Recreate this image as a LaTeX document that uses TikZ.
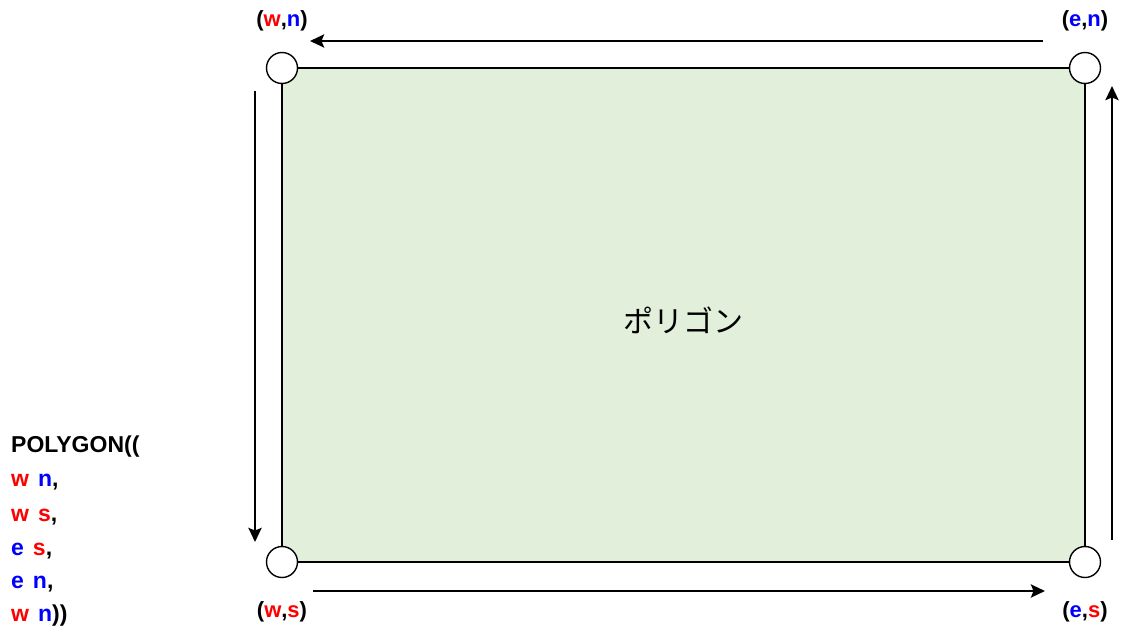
\documentclass[tikz,border=0pt]{standalone}
\usepackage{fontspec}
\setmainfont{Noto Sans CJK JP}
\newfontfamily\latf{Liberation Sans}
\usetikzlibrary{arrows.meta}
\definecolor{polyfill}{HTML}{E2EFDA}
\definecolor{cred}{HTML}{FF0000}
\definecolor{cblue}{HTML}{0000FF}
\newcommand{\rw}{\textcolor{cred}{w}}
\newcommand{\bn}{\textcolor{cblue}{n}}
\newcommand{\rs}{\textcolor{cred}{s}}
\newcommand{\be}{\textcolor{cblue}{e}}
\newcommand{\gap}{\hspace{9pt}}
\begin{document}
\begin{tikzpicture}[x=1pt,y=-1pt,
  corner/.style={circle,draw=black,fill=white,line width=1.4pt,minimum size=31pt,inner sep=0pt},
  flow/.style={line width=2.6pt,-{Stealth[length=14pt,width=13pt,inset=2.5pt]}},
  lbl/.style={font=\fontsize{22}{26}\selectfont\latf\bfseries,inner sep=0pt},
  code/.style={font=\fontsize{23}{27}\selectfont\latf\bfseries,anchor=west,inner sep=0pt}]
\useasboundingbox (0,0) rectangle (1121,629);
\node[draw=black,fill=polyfill,line width=1.4pt,minimum width=803pt,minimum height=494pt,inner sep=0pt] (poly) at (683.5,315) {};
\node[font=\fontsize{30}{34}\selectfont] (ptext) at (683,320) {ポリゴン};
\node[corner] (wn) at (282,68) {};
\node[corner] (en) at (1085,68) {};
\node[corner] (ws) at (282,562) {};
\node[corner] (es) at (1085,562) {};
\node[lbl] (lwn) at (282,21) {(\rw,\bn)};
\node[lbl] (len) at (1085,21) {(\be,\bn)};
\node[lbl] (lws) at (282,612) {(\rw,\rs)};
\node[lbl] (les) at (1085,612) {(\be,\rs)};
\coordinate (t1) at (1043,41); \coordinate (t2) at (310,41);
\coordinate (l1) at (255,91); \coordinate (l2) at (255,542);
\coordinate (b1) at (313,591); \coordinate (b2) at (1045,591);
\coordinate (r1) at (1112,540); \coordinate (r2) at (1112,86);
\draw[flow] (t1) -- (t2);
\draw[flow] (l1) -- (l2);
\draw[flow] (b1) -- (b2);
\draw[flow] (r1) -- (r2);
\node[code] (c0) at (11,447) {POLYGON((};
\node[code] (c1) at (11,482) {\rw\gap\bn,};
\node[code] (c2) at (11,517) {\rw\gap\rs,};
\node[code] (c3) at (11,551) {\be\gap\rs,};
\node[code] (c4) at (11,584) {\be\gap\bn,};
\node[code] (c5) at (11,616) {\rw\gap\bn))};
\end{tikzpicture}
\end{document}
